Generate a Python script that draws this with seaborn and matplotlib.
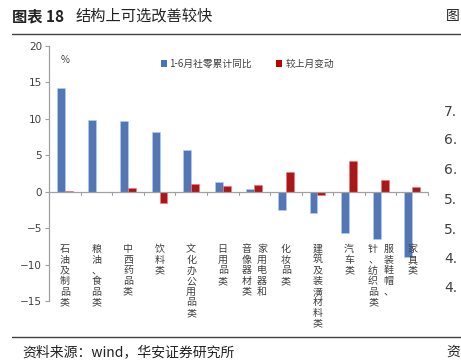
import matplotlib
matplotlib.use("Agg")
import matplotlib.pyplot as plt
from matplotlib.patches import Patch
from matplotlib.lines import Line2D
import seaborn as sns
import pandas as pd

categories = ["石油及制品类", "粮油、食品类", "中西药品类", "饮料类", "文化办公用品类", "日用品类",
              "家用电器和音像器材类", "化妆品类", "建筑及装潢材料类", "汽车类", "服装鞋帽、针纺织品类", "家具类"]
label_cols = [["石油及制品类"], ["粮油、食品类"], ["中西药品类"], ["饮料类"], ["文化办公用品类"], ["日用品类"],
              ["家用电器和", "音像器材类"], ["化妆品类"], ["建筑及装潢材料类"], ["汽车类"],
              ["服装鞋帽、", "针、纺织品类"], ["家具类"]]
ytd_yoy = [14.2, 9.9, 9.7, 8.2, 5.7, 1.3, 0.4, -2.5, -2.9, -5.7, -6.5, -9.0]
mom_change = [0.1, -0.1, 0.5, -1.6, 1.0, 0.8, 0.9, 2.7, -0.4, 4.2, 1.6, 0.6]
series_names = ["1-6月社零累计同比", "较上月变动"]
yticks = [-15, -10, -5, 0, 5, 10, 15, 20]

sns.set_theme(style="white")
plt.rcParams["font.family"] = ["Noto Sans CJK SC", "DejaVu Sans"]
plt.rcParams["axes.unicode_minus"] = True

df = pd.DataFrame({
    "cat": categories * 2,
    "val": ytd_yoy + mom_change,
    "series": [series_names[0]] * len(categories) + [series_names[1]] * len(categories),
})

W, H = 461, 361
fig = plt.figure(figsize=(W / 100, H / 100), dpi=100)
ax = fig.add_axes([49 / W, 1 - 301 / H, (428 - 49) / W, (301 - 46) / H])

colors = {series_names[0]: "#4472C4", series_names[1]: "#C00000"}
sns.barplot(data=df, x="cat", y="val", hue="series", order=categories, hue_order=series_names,
            palette=colors, width=0.5, dodge=True, ax=ax, legend=False, errorbar=None,
            edgecolor="#f2d0d0", linewidth=0.4, gap=0)
for p in ax.patches:
    fc = p.get_facecolor()
    p.set_edgecolor((min(fc[0] + 0.35, 1), min(fc[1] + 0.35, 1), min(fc[2] + 0.35, 1)))

ax.set_xlim(-0.5, len(categories) - 0.5)
ax.set_ylim(-15, 20)
ax.set_yticks(yticks)
ax.set_yticklabels([str(v).replace("-", "\u2212") for v in yticks], fontsize=7.5, color="#404040",
                   family="DejaVu Sans")
ax.set_xticks([])
ax.set_xlabel("")
ax.set_ylabel("")
for s in ["top", "right", "bottom"]:
    ax.spines[s].set_visible(False)
ax.spines["left"].set_color("#a0a0a0")
ax.spines["left"].set_linewidth(0.9)
ax.tick_params(axis="y", length=3, width=0.8, color="#a0a0a0", pad=2, left=True)

# zero line with category-boundary ticks
ax.axhline(0, color="#a0a0a0", lw=0.9, zorder=3)
for i in range(len(categories) + 1):
    ax.plot([i - 0.5, i - 0.5], [0, -0.45], color="#a0a0a0", lw=0.8, clip_on=False, zorder=3)

# vertical category labels
for i, cols in enumerate(label_cols):
    n = len(cols)
    offsets = [0.0] if n == 1 else [0.24, -0.24]
    for col, off in zip(cols, offsets):
        ax.text(i + off, -7.2, "\n".join(col), ha="center", va="top", fontsize=7.2,
                color="#404040", linespacing=1.08)

ax.text(0.03, 0.965, "%", transform=ax.transAxes, fontsize=7, color="#404040", ha="left", va="top")

handles = [Patch(facecolor=colors[s], edgecolor="none") for s in series_names]
fig.legend(handles, series_names, loc="center left", bbox_to_anchor=(152 / W, 1 - 64 / H),
           ncol=2, frameon=False, fontsize=7, handlelength=0.6, handleheight=0.6,
           handletextpad=0.3, columnspacing=2.5, labelcolor="#404040")

# header / footer
fig.text(12 / W, 1 - 16 / H, "图表 18", fontsize=11, fontweight="bold", color="#222222", va="center")
fig.text(76 / W, 1 - 16 / H, "结构上可选改善较快", fontsize=11, color="#222222", va="center")
fig.text(446 / W, 1 - 16 / H, "图", fontsize=10, color="#222222", va="center")
fig.add_artist(Line2D([12 / W, 1.0], [1 - 34 / H, 1 - 34 / H], color="#404040", lw=1.0))
fig.add_artist(Line2D([12 / W, 1.0], [1 - 337 / H, 1 - 337 / H], color="#404040", lw=1.0))
fig.text(22 / W, 1 - 352 / H, "资料来源：wind，华安证券研究所", fontsize=10, color="#222222", va="center")
fig.text(446 / W, 1 - 352 / H, "资", fontsize=10, color="#222222", va="center")

# cropped neighbouring chart axis
for yy, t in zip([112, 140, 170, 200, 230, 259, 288], ["7.", "6.", "6.", "5.", "5.", "4.", "4."]):
    fig.text(444 / W, 1 - yy / H, t, fontsize=10, color="#404040", va="center", family="DejaVu Sans")

fig.savefig("out.png", dpi=100)
